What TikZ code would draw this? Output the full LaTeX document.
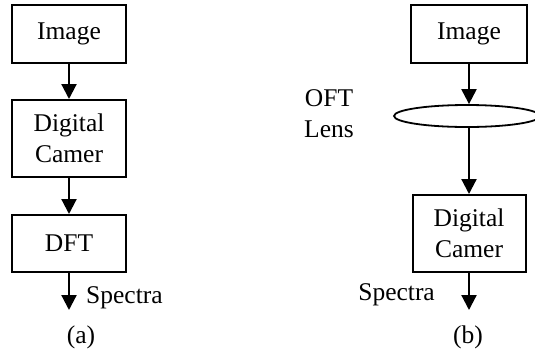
\documentclass[tikz,border=0pt]{standalone}
\usepackage{fontspec}
\setmainfont{Liberation Serif}
\usetikzlibrary{arrows.meta,shapes.geometric}
\begin{document}
\begin{tikzpicture}[x=1pt,y=-1pt,
  every node/.style={font=\fontsize{25.5}{31}\selectfont, inner sep=0pt},
  blockbox/.style={draw, line width=2pt, minimum width=114pt, align=center},
  conn/.style={line width=2.2pt, -{Triangle[width=15pt,length=15pt]}},
  lens/.style={draw, ellipse, line width=1.8pt, minimum width=146pt, minimum height=22pt}]
\useasboundingbox (0,0) rectangle (535,349);
% (a)
\node[blockbox, minimum height=58pt] (ia) at (69,34) {Image};
\node[blockbox, minimum height=77pt] (ca) at (69,138.5) {Digital\\Camer};
\node[blockbox, minimum height=57pt] (da) at (69,243.5) {DFT};
\coordinate (ea) at (69,310);
\node[anchor=base west] (sa) at (86,303) {Spectra};
\node[anchor=base] (la) at (81,343) {(a)};
\draw[conn] (ia) -- (ca);
\draw[conn] (ca) -- (da);
\draw[conn] (da) -- (ea);
% (b)
\node[blockbox, minimum width=116pt, minimum height=58pt] (ib) at (469,34) {Image};
\node[lens] (lb) at (467,116) {};
\node[blockbox, minimum width=113pt, minimum height=77pt] (cb) at (469,233.5) {Digital\\Camer};
\coordinate (eb) at (469,310);
\node[anchor=base, align=center] (ob) at (329,137) {OFT\\Lens};
\node[anchor=base east] (sb) at (435,300) {Spectra};
\node[anchor=base] (lbl) at (468,343) {(b)};
\draw[conn] (ib) -- (ib|-lb.north);
\draw[conn] (ib|-lb.south) -- (cb);
\draw[conn] (cb) -- (eb);
\end{tikzpicture}
\end{document}
